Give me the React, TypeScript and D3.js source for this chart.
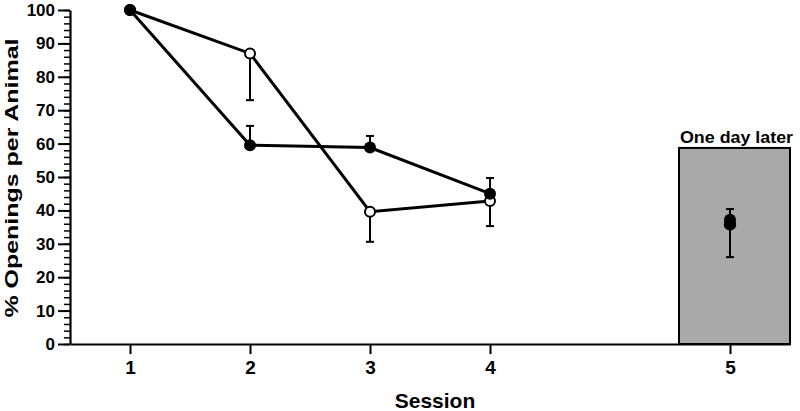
import React, { useEffect, useRef } from 'react';
import * as d3 from 'd3';

// sessions 1-4 share one spacing, session 5 ("one day later") sits further right
const sessions = [1, 2, 3, 4, 5];
const sessionPos = [1, 2, 3, 4, 6];

// filled circles: error bars point up
const filledMean = [100, 59.5, 58.8, 45.0];
const filledErr = [0, 5.8, 3.5, 4.7];
// open circles: error bars point down
const openMean = [100, 87.0, 39.6, 42.8];
const openErr = [0, 14.0, 9.0, 7.5];

// one day later
const laterFilledMean = 37.2;
const laterFilledErr = 3.2;
const laterOpenMean = 35.8;
const laterOpenErr = 9.8;
const laterBoxValue = 58.7;
const laterBoxSpan = [5.575, 6.5];

const yTicks = [0, 10, 20, 30, 40, 50, 60, 70, 80, 90, 100];

const FONT = "'Liberation Sans', Arial, Helvetica, sans-serif";

const App = () => {
  const width = 800;
  const height = 411;
  const margin = { top: 10, right: 10, bottom: 67, left: 70 };

  const x = d3.scaleLinear().domain([0.5, 6.5]).range([margin.left, width - margin.right]);
  const y = d3.scaleLinear().domain([0, 100]).range([height - margin.bottom, margin.top]);

  const yRef = useRef<SVGGElement>(null);
  const yMinorRef = useRef<SVGGElement>(null);
  const xRef = useRef<SVGGElement>(null);

  useEffect(() => {
    const yAxis = d3.axisLeft(y).tickValues(yTicks).tickSize(12).tickSizeOuter(0).tickPadding(3);
    const gy = d3.select(yRef.current).call(yAxis as any);
    gy.attr('font-family', FONT).attr('font-size', 17).attr('font-weight', 'bold');
    gy.selectAll('line').attr('stroke-width', 2);
    gy.select('.domain').attr('stroke-width', 2.2);

    const yMinor = d3.axisLeft(y).ticks(50).tickSize(6).tickFormat(() => '');
    const gm = d3.select(yMinorRef.current).call(yMinor as any);
    gm.select('.domain').remove();
    gm.selectAll('line').attr('stroke-width', 1.5);

    const xAxis = d3
      .axisBottom(x)
      .tickValues(sessionPos)
      .tickSize(10)
      .tickSizeOuter(0)
      .tickPadding(7)
      .tickFormat((d, i) => String(sessions[i]));
    const gx = d3.select(xRef.current).call(xAxis as any);
    gx.attr('font-family', FONT).attr('font-size', 19).attr('font-weight', 'bold');
    gx.selectAll('line').attr('stroke-width', 2);
    gx.select('.domain').attr('stroke-width', 2.2);
  }, []);

  const first4 = sessionPos.slice(0, 4);
  const line = d3
    .line<number>()
    .x((d, i) => x(first4[i]))
    .y(d => y(d));

  const capW = 4;

  const errBar = (px: number, mean: number, err: number, dir: number, key: string) => {
    if (!err) return null;
    const end = y(mean + dir * err);
    return (
      <g key={key} stroke="black" strokeWidth={2}>
        <line x1={x(px)} x2={x(px)} y1={y(mean)} y2={end} />
        <line x1={x(px) - capW} x2={x(px) + capW} y1={end} y2={end} />
      </g>
    );
  };

  return (
    <svg
      width={width}
      height={height}
      viewBox={`0 0 ${width} ${height}`}
      style={{ position: 'absolute', left: 0, top: 0, background: 'white' }}
    >
      {/* one day later box */}
      <rect
        x={x(laterBoxSpan[0])}
        y={y(laterBoxValue)}
        width={x(laterBoxSpan[1]) - x(laterBoxSpan[0])}
        height={y(0) - y(laterBoxValue)}
        fill="#a9a9a9"
        stroke="black"
        strokeWidth={2}
      />
      <text
        x={(x(laterBoxSpan[0]) + x(laterBoxSpan[1])) / 2 + 2}
        y={y(laterBoxValue) - 5}
        textAnchor="middle"
        fontFamily={FONT}
        fontWeight="bold"
        fontSize={16}
        textLength={113}
        lengthAdjust="spacingAndGlyphs"
      >
        One day later
      </text>

      <g ref={yMinorRef} transform={`translate(${margin.left},0)`} />
      <g ref={yRef} transform={`translate(${margin.left},0)`} />
      <g ref={xRef} transform={`translate(0,${height - margin.bottom})`} />

      <path d={line(filledMean) || ''} fill="none" stroke="black" strokeWidth={3} />
      <path d={line(openMean) || ''} fill="none" stroke="black" strokeWidth={3} />

      {filledMean.map((m, i) => errBar(first4[i], m, filledErr[i], 1, `fe-${i}`))}
      {openMean.map((m, i) => errBar(first4[i], m, openErr[i], -1, `oe-${i}`))}
      {errBar(sessionPos[4], laterFilledMean, laterFilledErr, 1, 'lfe')}
      {errBar(sessionPos[4], laterOpenMean, laterOpenErr, -1, 'loe')}

      {openMean.map((m, i) => (
        <circle key={`o-${i}`} cx={x(first4[i])} cy={y(m)} r={5} fill="white" stroke="black" strokeWidth={2} />
      ))}
      {filledMean.map((m, i) => (
        <circle key={`f-${i}`} cx={x(first4[i])} cy={y(m)} r={6} fill="black" />
      ))}
      <circle cx={x(sessionPos[4])} cy={y(laterOpenMean)} r={5.5} fill="black" stroke="black" strokeWidth={1.5} />
      <circle cx={x(sessionPos[4])} cy={y(laterFilledMean)} r={6} fill="black" />

      <text
        transform={`translate(18,${(y(0) + y(100)) / 2 + 1}) rotate(-90)`}
        textAnchor="middle"
        fontFamily={FONT}
        fontWeight="bold"
        fontSize={18}
        textLength={279}
        lengthAdjust="spacingAndGlyphs"
      >
        % Openings per Animal
      </text>
      <text x={435} y={408} textAnchor="middle" fontFamily={FONT} fontWeight="bold" fontSize={21}>
        Session
      </text>
    </svg>
  );
};

export default App;
